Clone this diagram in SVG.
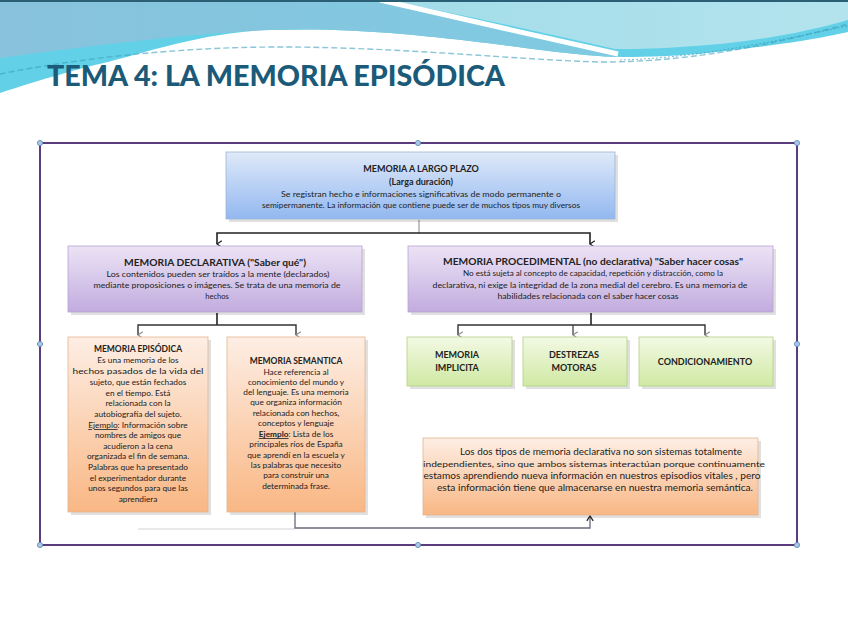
<svg xmlns="http://www.w3.org/2000/svg" width="848" height="636" viewBox="0 0 848 636">
<defs>
<linearGradient id="gBlue" x1="0" y1="0" x2="0" y2="1"><stop offset="0" stop-color="#dfe9f9"/><stop offset="1" stop-color="#92b8f0"/></linearGradient>
<linearGradient id="gPurple" x1="0" y1="0" x2="0" y2="1"><stop offset="0" stop-color="#ece3f5"/><stop offset="1" stop-color="#c2acdf"/></linearGradient>
<linearGradient id="gOrange" x1="0" y1="0" x2="0" y2="1"><stop offset="0" stop-color="#fdeee4"/><stop offset="1" stop-color="#f9b784"/></linearGradient>
<linearGradient id="gGreen" x1="0" y1="0" x2="0" y2="1"><stop offset="0" stop-color="#f3f9e4"/><stop offset="1" stop-color="#cfe9a3"/></linearGradient>
<linearGradient id="gWaveBlue" x1="0" y1="0" x2="1" y2="0"><stop offset="0" stop-color="#88c2dc"/><stop offset="1" stop-color="#7fcbe2"/></linearGradient>
<linearGradient id="gWaveLight" x1="0" y1="0" x2="1" y2="0"><stop offset="0" stop-color="#a2dce8"/><stop offset="1" stop-color="#b3e4ee"/></linearGradient>
<marker id="arrDark" viewBox="0 0 10 10" refX="5" refY="9" markerWidth="8" markerHeight="8" orient="auto-start-reverse" markerUnits="userSpaceOnUse"><path d="M1,3 L5,9 L9,3" fill="none" stroke="#222" stroke-width="1.6"/></marker>
<marker id="arrGray" viewBox="0 0 10 10" refX="5" refY="9" markerWidth="8" markerHeight="8" orient="auto-start-reverse" markerUnits="userSpaceOnUse"><path d="M1,3 L5,9 L9,3" fill="none" stroke="#8a8a8a" stroke-width="1.4"/></marker>
<marker id="arrUp" viewBox="0 0 10 10" refX="5" refY="1" markerWidth="8" markerHeight="8" orient="0" markerUnits="userSpaceOnUse"><path d="M1,7 L5,1 L9,7" fill="none" stroke="#222" stroke-width="1.6"/></marker>
</defs>
<style>
text{font-family:Lato,"Liberation Sans",sans-serif;fill:#222;text-anchor:middle}
.b{font-weight:bold}
.h{font-size:9px;font-weight:bold}
.t{font-size:7.6px}
.s{font-size:8.3px}
.shadow{fill:#000;opacity:0.12}
.handle{fill:#a9c7e6;stroke:#5d86b3;stroke-width:0.8}
</style>
<rect width="848" height="636" fill="#ffffff"/>
<!-- header waves -->
<path d="M0,0 H848 V32 C830,36 800,42 757,47 C720,52 680,57 622,57 C590,57 540,50 487,43 C430,36 350,27 270,30 C210,32 160,48 108,62 C80,68 40,80 0,93 Z" fill="#62d1e7"/>
<path d="M0,0 H380 C455,18 545,40 615,55 L622,57 C590,57 540,50 487,43 C430,36 350,27 270,30 C200,33 100,44 0,58 Z" fill="url(#gWaveBlue)"/>
<path d="M386,0 H848 V20 C800,34 740,44 680,47 C650,49 630,49 615,49 C540,32 460,14 386,0 Z" fill="url(#gWaveLight)"/>
<path d="M380,0 C455,17 545,38 618,54" fill="none" stroke="#ffffff" stroke-width="5"/>
<path d="M0,74 C80,58 180,47 280,47 C400,47 520,60 600,62 C700,62 780,42 848,24" fill="none" stroke="#3d9fbd" stroke-width="1.4" stroke-dasharray="6 3" opacity="0.6"/>
<path d="M620,60 C700,58 780,40 848,26" fill="none" stroke="#2b8fb0" stroke-width="1" stroke-dasharray="2 2" opacity="0.6"/>
<rect x="0" y="0" width="848" height="2" fill="#2a5f75"/>
<text x="47" y="86" style="font-family:Lato,'Liberation Sans',sans-serif;font-size:28px;font-weight:900;fill:#1b5a78;text-anchor:start" textLength="458" lengthAdjust="spacingAndGlyphs">TEMA 4: LA MEMORIA EPISÓDICA</text>

<!-- frame -->
<g id="frame">
<rect x="40" y="143" width="757" height="402" fill="#ffffff" stroke="#5b3c7c" stroke-width="2"/>
<circle class="handle" cx="40" cy="143" r="2.6"/>
<circle class="handle" cx="418" cy="143" r="2.6"/>
<circle class="handle" cx="797" cy="143" r="2.6"/>
<circle class="handle" cx="40" cy="344" r="2.6"/>
<circle class="handle" cx="797" cy="344" r="2.6"/>
<circle class="handle" cx="40" cy="545" r="2.6"/>
<circle class="handle" cx="418" cy="545" r="2.6"/>
<circle class="handle" cx="797" cy="545" r="2.6"/>
</g>

<!-- connectors -->
<g id="connectors" fill="none">
<path d="M419,220 V233" stroke="#999" stroke-width="1.2"/>
<path d="M217,244 V233 H590 V244" stroke="#222" stroke-width="1.6" marker-start="url(#arrDark)" marker-end="url(#arrDark)"/>
<path d="M217,313 V325" stroke="#222" stroke-width="1.6"/>
<path d="M138,335 V325 H296 V335" stroke="#333" stroke-width="1.4" marker-start="url(#arrGray)" marker-end="url(#arrGray)"/>
<path d="M591,313 V325" stroke="#222" stroke-width="1.6"/>
<path d="M458,335 V325 H705 V335" stroke="#333" stroke-width="1.4" marker-start="url(#arrGray)" marker-end="url(#arrGray)"/>
<path d="M573,325 V335" stroke="#333" stroke-width="1.2" marker-end="url(#arrGray)"/>
<path d="M138,529 H295" stroke="#d4d4d4" stroke-width="1.2"/>
<path d="M295,512 V528 H590 V516" stroke="#6a6a7a" stroke-width="1.3" marker-end="url(#arrUp)"/>
</g>

<!-- top node -->
<g id="largo-plazo">
<rect class="shadow" x="229" y="155" width="389" height="67"/>
<rect x="226" y="152" width="389" height="67" fill="url(#gBlue)" stroke="#9fb4d4" stroke-width="0.8"/>
<text x="421" y="172" class="h">MEMORIA A LARGO PLAZO</text>
<text x="421" y="185" class="h">(Larga duración)</text>
<text x="421" y="197" class="t" textLength="280" lengthAdjust="spacingAndGlyphs">Se registran hecho e informaciones significativas de modo permanente o</text>
<text x="421" y="208" class="t" textLength="318" lengthAdjust="spacingAndGlyphs">semipermanente. La información que contiene puede ser de muchos tipos muy diversos</text>
</g>

<g id="declarativa">
<rect class="shadow" x="71" y="249" width="294" height="66"/>
<rect x="68" y="246" width="294" height="66" fill="url(#gPurple)" stroke="#b8a3d3" stroke-width="0.8"/>
<text x="215" y="266" class="h" style="font-size:9.5px" textLength="182" lengthAdjust="spacingAndGlyphs">MEMORIA DECLARATIVA ("Saber qué")</text>
<text x="218" y="277" class="t" textLength="223" lengthAdjust="spacingAndGlyphs">Los contenidos pueden ser traídos a la mente (declarados)</text>
<text x="217" y="288" class="t" textLength="247" lengthAdjust="spacingAndGlyphs">mediante proposiciones o imágenes. Se trata de una memoria de</text>
<text x="217" y="299" class="t">hechos</text>
</g>

<g id="procedimental">
<rect class="shadow" x="411" y="249" width="365" height="66"/>
<rect x="408" y="246" width="365" height="66" fill="url(#gPurple)" stroke="#b8a3d3" stroke-width="0.8"/>
<text x="593" y="265" class="h" style="font-size:9.5px" textLength="300" lengthAdjust="spacingAndGlyphs">MEMORIA PROCEDIMENTAL (no declarativa) "Saber hacer cosas"</text>
<text x="593" y="276" class="t" textLength="260" lengthAdjust="spacingAndGlyphs">No está sujeta al concepto de capacidad, repetición y distracción, como la</text>
<text x="590" y="288" class="t" textLength="315" lengthAdjust="spacingAndGlyphs">declarativa, ni exige la integridad de la zona medial del cerebro. Es una memoria de</text>
<text x="588" y="299" class="t" textLength="181" lengthAdjust="spacingAndGlyphs">habilidades relacionada con el saber hacer cosas</text>
</g>

<g id="episodica">
<rect class="shadow" x="71" y="340" width="140" height="175"/>
<rect x="68" y="337" width="140" height="175" fill="url(#gOrange)" stroke="#e3b48e" stroke-width="0.8"/>
<text x="138" y="352" class="h" style="font-size:8.5px">MEMORIA EPISÓDICA</text>
<g class="s">
<text x="138" y="363" class="s">Es una memoria de los</text>
<text x="138" y="374" class="s" textLength="131" lengthAdjust="spacingAndGlyphs">hechos pasados de la vida del</text>
<text x="138" y="385" class="s">sujeto, que están fechados</text>
<text x="138" y="396" class="s">en el tiempo. Está</text>
<text x="138" y="406" class="s">relacionada con la</text>
<text x="138" y="417" class="s">autobiografía del sujeto.</text>
<text x="138" y="428" class="s"><tspan text-decoration="underline">Ejemplo</tspan>: Información sobre</text>
<text x="138" y="438" class="s">nombres de amigos que</text>
<text x="138" y="449" class="s">acudieron a la cena</text>
<text x="138" y="459" class="s">organizada el fin de semana.</text>
<text x="138" y="470" class="s">Palabras que ha presentado</text>
<text x="138" y="481" class="s">el experimentador durante</text>
<text x="138" y="491" class="s">unos segundos para que las</text>
<text x="138" y="502" class="s">aprendiera</text>
</g>
</g>

<g id="semantica">
<rect class="shadow" x="230" y="340" width="138" height="175"/>
<rect x="227" y="337" width="138" height="175" fill="url(#gOrange)" stroke="#e3b48e" stroke-width="0.8"/>
<text x="296" y="364" class="h" style="font-size:8.5px">MEMORIA SEMANTICA</text>
<text x="296" y="375" class="s">Hace referencia al</text>
<text x="296" y="385" class="s">conocimiento del mundo y</text>
<text x="296" y="395" class="s">del lenguaje. Es una memoria</text>
<text x="296" y="405" class="s">que organiza información</text>
<text x="296" y="416" class="s">relacionada con hechos,</text>
<text x="296" y="426" class="s">conceptos y lenguaje</text>
<text x="296" y="437" class="s"><tspan text-decoration="underline" font-weight="bold">Ejemplo</tspan>: Lista de los</text>
<text x="296" y="447" class="s">principales ríos de España</text>
<text x="296" y="458" class="s">que aprendí en la escuela y</text>
<text x="296" y="468" class="s">las palabras que necesito</text>
<text x="296" y="478" class="s">para construir una</text>
<text x="296" y="489" class="s">determinada frase.</text>
</g>

<g id="implicita">
<rect class="shadow" x="410" y="340" width="105" height="49"/>
<rect x="407" y="337" width="105" height="49" fill="url(#gGreen)" stroke="#b5cf86" stroke-width="0.8"/>
<text x="457" y="358" class="h">MEMORIA</text>
<text x="457" y="371" class="h">IMPLICITA</text>
</g>
<g id="destrezas">
<rect class="shadow" x="526" y="340" width="104" height="49"/>
<rect x="523" y="337" width="104" height="49" fill="url(#gGreen)" stroke="#b5cf86" stroke-width="0.8"/>
<text x="574" y="358" class="h">DESTREZAS</text>
<text x="574" y="371" class="h">MOTORAS</text>
</g>
<g id="condicionamiento">
<rect class="shadow" x="642" y="340" width="134" height="49"/>
<rect x="639" y="337" width="134" height="49" fill="url(#gGreen)" stroke="#b5cf86" stroke-width="0.8"/>
<text x="705" y="365" class="h">CONDICIONAMIENTO</text>
</g>

<g id="nota">
<rect class="shadow" x="426" y="441" width="335" height="77"/>
<rect x="423" y="438" width="335" height="77" fill="url(#gOrange)" stroke="#e3b48e" stroke-width="0.8"/>
<text x="601" y="455" class="s" style="font-size:9px" textLength="282" lengthAdjust="spacingAndGlyphs">Los dos tipos de memoria declarativa no son sistemas totalmente</text>
<text x="594" y="467" class="s" style="font-size:8.2px" textLength="342" lengthAdjust="spacingAndGlyphs">independientes, sino que ambos sistemas interactúan porque continuamente</text>
<text x="592" y="479" class="s" style="font-size:9px" textLength="337" lengthAdjust="spacingAndGlyphs">estamos aprendiendo nueva información en nuestros episodios vitales , pero</text>
<text x="595" y="491" class="s" style="font-size:8.6px" textLength="316" lengthAdjust="spacingAndGlyphs">esta información tiene que almacenarse en nuestra memoria semántica.</text>
</g>
</svg>
